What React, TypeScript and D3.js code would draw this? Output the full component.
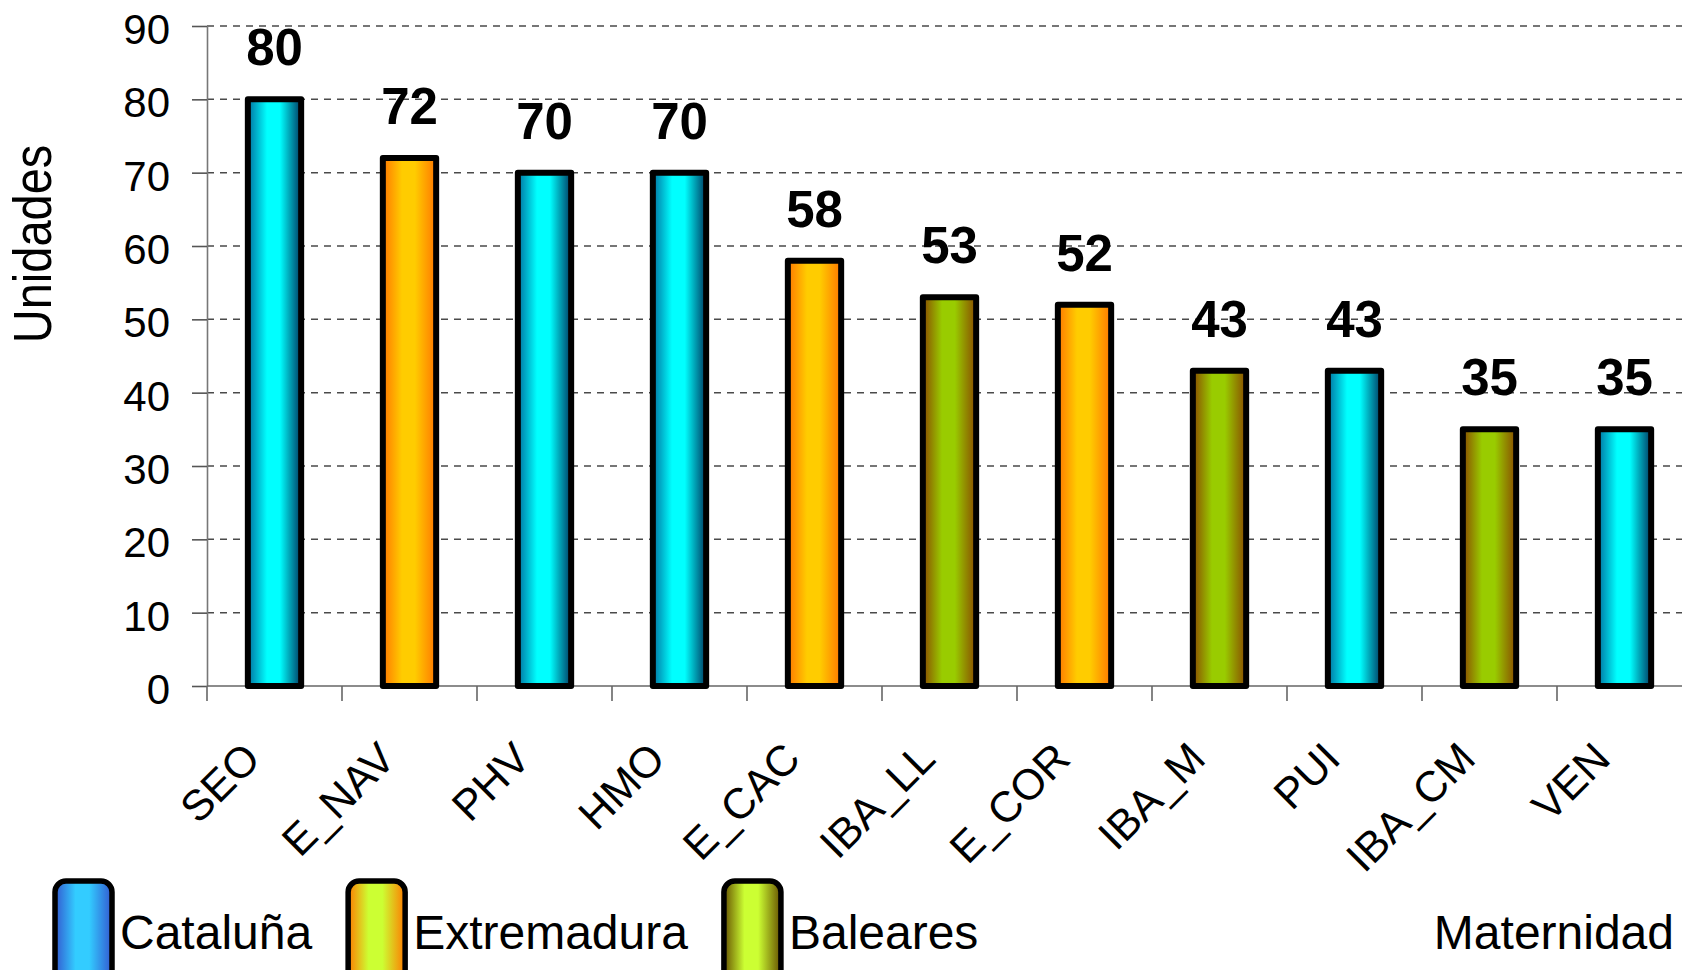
import React, { useEffect, useRef } from 'react';
import * as d3 from 'd3';

// units per maternity unit
const categories = ['SEO', 'E_NAV', 'PHV', 'HMO', 'E_CAC', 'IBA_LL', 'E_COR', 'IBA_M', 'PUI', 'IBA_CM', 'VEN'];
const values = [80, 72, 70, 70, 58, 53, 52, 43, 43, 35, 35];
const regionOf = ['Cataluña', 'Extremadura', 'Cataluña', 'Cataluña', 'Extremadura', 'Baleares', 'Extremadura', 'Baleares', 'Cataluña', 'Baleares', 'Cataluña'];
const regions = ['Cataluña', 'Extremadura', 'Baleares'];
const yTicks = [0, 10, 20, 30, 40, 50, 60, 70, 80, 90];

// bar fills: [edge, centre, far edge]
const barStops: Record<string, string[]> = {
   'Cataluña': ['#0070A0', '#00FFFF', '#003A62'],
   'Extremadura': ['#FF7700', '#FFCC00', '#FF7700'],
   'Baleares': ['#8A4A00', '#99CC00', '#8A4A00'],
};
// legend swatches use a different ramp in the original
const legendStops: Record<string, string[]> = {
   'Cataluña': ['#3358D0', '#33CCFF', '#3358D0'],
   'Extremadura': ['#FF7A00', '#CCFF33', '#FF7A00'],
   'Baleares': ['#665000', '#CCFF33', '#665000'],
};

const FONT = '"Liberation Sans", Arial, sans-serif';
const W = 1682;
const H = 970;

const App = () => {
   const svgRef = useRef<SVGSVGElement>(null);

   useEffect(() => {
      const svg = d3.select(svgRef.current);
      svg.selectAll('*').remove();

      const left = 207;
      const top = 26;
      const bottom = 686;

      const x = d3.scaleBand().domain(categories).range([left, left + 135 * categories.length]);
      const y = d3.scaleLinear().domain([0, 90]).range([bottom, top]);
      const barW = x.bandwidth() * 0.395;

      const defs = svg.append('defs');
      const addGrad = (id: string, stops: string[]) => {
         const g = defs.append('linearGradient').attr('id', id).attr('x1', 0).attr('x2', 1).attr('y1', 0).attr('y2', 0);
         g.append('stop').attr('offset', '0%').attr('stop-color', stops[0]);
         g.append('stop').attr('offset', '36%').attr('stop-color', stops[1]);
         g.append('stop').attr('offset', '60%').attr('stop-color', stops[1]);
         g.append('stop').attr('offset', '100%').attr('stop-color', stops[2]);
      };
      regions.forEach((r, i) => {
         addGrad(`bar${i}`, barStops[r]);
         addGrad(`leg${i}`, legendStops[r]);
      });

      // gridlines
      svg.append('g')
         .selectAll('line')
         .data(yTicks.filter(t => t > 0))
         .enter()
         .append('line')
         .attr('x1', left)
         .attr('x2', W)
         .attr('y1', d => y(d))
         .attr('y2', d => y(d))
         .attr('stroke', '#4a4a4a')
         .attr('stroke-width', 1.5)
         .attr('stroke-dasharray', '7 6');

      // y axis
      const yAxis = svg.append('g')
         .attr('transform', `translate(${left},0)`)
         .call(d3.axisLeft(y).tickValues(yTicks).tickSize(15).tickSizeOuter(0).tickPadding(22));
      yAxis.select('.domain').attr('stroke', '#777').attr('stroke-width', 1.6);
      yAxis.selectAll('.tick line').attr('stroke', '#555').attr('stroke-width', 1.6);
      yAxis.selectAll('.tick text')
         .attr('font-family', FONT)
         .attr('font-size', 42)
         .attr('fill', '#000')
         .attr('dy', '0.42em');

      // x axis baseline and ticks at band edges
      svg.append('line')
         .attr('x1', left).attr('x2', W)
         .attr('y1', bottom).attr('y2', bottom)
         .attr('stroke', '#666').attr('stroke-width', 1.6);
      const edges = categories.map(c => x(c) as number).concat([x.range()[1]]);
      svg.append('g')
         .selectAll('line')
         .data(edges)
         .enter()
         .append('line')
         .attr('x1', d => d).attr('x2', d => d)
         .attr('y1', bottom).attr('y2', bottom + 15)
         .attr('stroke', '#666').attr('stroke-width', 1.6);

      // bars
      svg.append('g')
         .selectAll('rect')
         .data(values)
         .enter()
         .append('rect')
         .attr('x', (d, i) => (x(categories[i]) as number) + x.bandwidth() / 2 - barW / 2)
         .attr('width', barW)
         .attr('y', d => y(d))
         .attr('height', d => bottom - y(d))
         .attr('fill', (d, i) => `url(#bar${regions.indexOf(regionOf[i])})`)
         .attr('stroke', '#000')
         .attr('stroke-width', 6)
         .attr('stroke-linejoin', 'round');

      // value labels
      svg.append('g')
         .selectAll('text')
         .data(values)
         .enter()
         .append('text')
         .attr('x', (d, i) => (x(categories[i]) as number) + x.bandwidth() / 2)
         .attr('y', d => y(d) - 34)
         .attr('text-anchor', 'middle')
         .attr('font-family', FONT)
         .attr('font-weight', 'bold')
         .attr('font-size', 51)
         .text(d => d);

      // category labels
      svg.append('g')
         .selectAll('text')
         .data(categories)
         .enter()
         .append('text')
         .attr('transform', d => `translate(${(x(d) as number) + x.bandwidth() / 2 - 12},${bottom + 75}) rotate(-45)`)
         .attr('text-anchor', 'end')
         .attr('font-family', FONT)
         .attr('font-size', 43)
         .text(d => d);

      // y title
      svg.append('text')
         .attr('transform', `translate(51,244) rotate(-90) scale(0.96,1.08)`)
         .attr('text-anchor', 'middle')
         .attr('font-family', FONT)
         .attr('font-size', 49)
         .text('Unidades');

      // legend
      const legBase = 949;
      let lx = 55;
      regions.forEach((r, i) => {
         const g = svg.append('g');
         g.append('rect')
            .attr('x', lx)
            .attr('y', 881)
            .attr('width', 57)
            .attr('height', 120)
            .attr('rx', 11)
            .attr('fill', `url(#leg${i})`)
            .attr('stroke', '#000')
            .attr('stroke-width', 5.5);
         const t = g.append('text')
            .attr('x', lx + 65)
            .attr('y', legBase)
            .attr('font-family', FONT)
            .attr('font-size', 48)
            .text(r);
         const tw = (t.node() as SVGTextElement).getComputedTextLength();
         lx = lx + 65 + tw + 36;
      });

      svg.append('text')
         .attr('x', 1674)
         .attr('y', legBase)
         .attr('text-anchor', 'end')
         .attr('font-family', FONT)
         .attr('font-size', 48)
         .text('Maternidad');
   }, []);

   return (
      <svg
         ref={svgRef}
         width={W}
         height={H}
         style={{ position: 'absolute', left: 0, top: 0, background: '#fff' }}
      ></svg>
   );
};

export default App;
